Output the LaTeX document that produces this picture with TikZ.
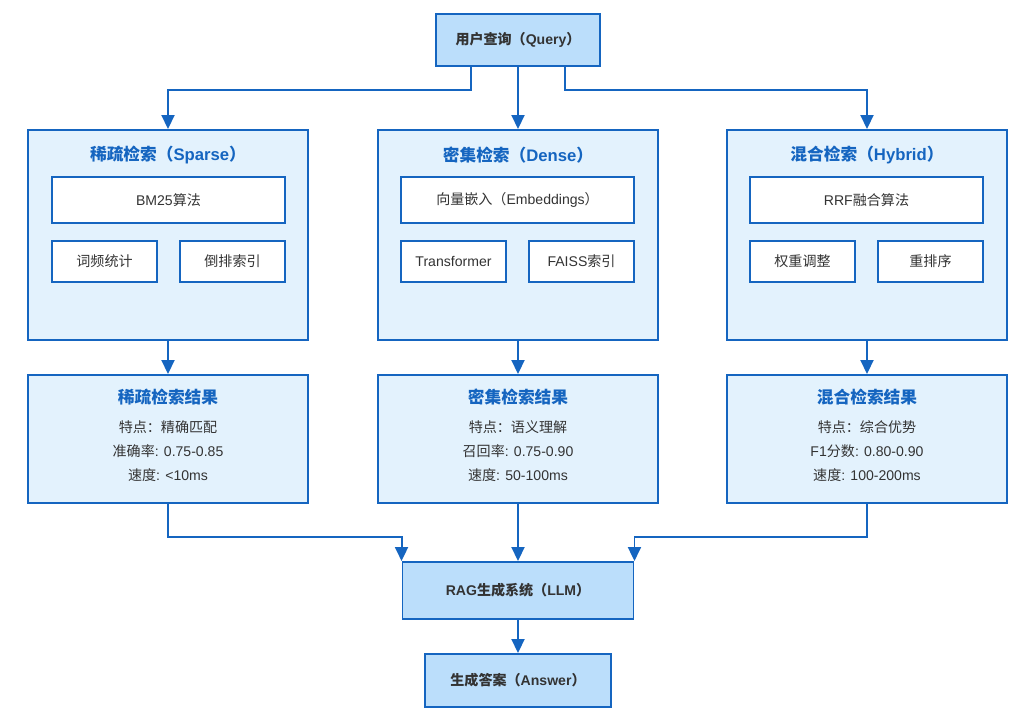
\documentclass[tikz,border=0pt]{standalone}
\usepackage{fontspec}
\setmainfont{Liberation Sans}
\newfontfamily\cjk{Noto Sans CJK SC}
\newcommand\zh[1]{{\cjk #1}}
\usetikzlibrary{arrows.meta}
\definecolor{edgeblue}{HTML}{1565C0}
\definecolor{paleblue}{HTML}{E3F2FD}
\definecolor{midblue}{HTML}{BBDEFB}
\definecolor{inktext}{HTML}{333333}
\tikzset{
  mainbox/.style={draw=edgeblue,fill=midblue,line width=1.1pt,text=inktext,
    font=\bfseries\fontsize{8}{10}\selectfont},
  panel/.style={draw=edgeblue,fill=paleblue,line width=1.1pt,
    minimum width=56mm,minimum height=42mm},
  title/.style={text=edgeblue,font=\bfseries\fontsize{9.5}{11}\selectfont},
  item/.style={draw=edgeblue,fill=white,line width=0.8pt,text=inktext,
    font=\fontsize{8}{10}\selectfont,minimum height=8.2mm},
  wideitem/.style={item,minimum width=46.6mm,minimum height=9.2mm},
  smallitem/.style={item,minimum width=21mm},
  result/.style={draw=edgeblue,fill=paleblue,line width=1.1pt,
    minimum width=56mm,minimum height=25.6mm},
  line/.style={text=inktext,font=\fontsize{8}{10}\selectfont},
  arr/.style={draw=edgeblue,line width=1.1pt,-{Triangle[length=2.8mm,width=2.6mm]}},
  wire/.style={draw=edgeblue,line width=1.1pt}
}
\begin{document}
\begin{tikzpicture}[x=0.2mm,y=-0.2mm]
  \useasboundingbox (0,0) rectangle (1026,710);
  % query
  \node [mainbox,minimum width=32.8mm,minimum height=10.4mm] (query) at (518,40)
    {\zh{用户查询（}Query\zh{）}};

  % retrieval panels
  \node [panel] (sparse) at (168,235) {};
  \node [title] (sparseT) at (168,155) {\zh{稀疏检索（}Sparse\zh{）}};
  \node [wideitem] (bm25) at (168.5,200) {BM25\zh{算法}};
  \node [smallitem] (tf) at (104.5,261.5) {\zh{词频统计}};
  \node [smallitem] (inv) at (232.5,261.5) {\zh{倒排索引}};

  \node [panel] (dense) at (518,235) {};
  \node [title] (denseT) at (518,155) {\zh{密集检索（}Dense\zh{）}};
  \node [wideitem] (emb) at (517.5,200) {\zh{向量嵌入（}Embeddings\zh{）}};
  \node [smallitem] (trf) at (453.5,261.5) {Transformer};
  \node [smallitem] (faiss) at (581.5,261.5) {FAISS\zh{索引}};

  \node [panel] (hybrid) at (867,235) {};
  \node [title] (hybridT) at (867,155) {\zh{混合检索（}Hybrid\zh{）}};
  \node [wideitem] (rrf) at (866.5,200) {RRF\zh{融合算法}};
  \node [smallitem] (wt) at (802.5,261.5) {\zh{权重调整}};
  \node [smallitem] (rr) at (930.5,261.5) {\zh{重排序}};

  % results
  \node [result] (sres) at (168,439) {};
  \node [title] at (168,397) {\zh{稀疏检索结果}};
  \node [line] at (168,427) {\zh{特点：精确匹配}};
  \node [line] at (168,451) {\zh{准确率}: 0.75-0.85};
  \node [line] at (168,475) {\zh{速度}: <10ms};

  \node [result] (dres) at (518,439) {};
  \node [title] at (518,397) {\zh{密集检索结果}};
  \node [line] at (518,427) {\zh{特点：语义理解}};
  \node [line] at (518,451) {\zh{召回率}: 0.75-0.90};
  \node [line] at (518,475) {\zh{速度}: 50-100ms};

  \node [result] (hres) at (867,439) {};
  \node [title] at (867,397) {\zh{混合检索结果}};
  \node [line] at (867,427) {\zh{特点：综合优势}};
  \node [line] at (867,451) {F1\zh{分数}: 0.80-0.90};
  \node [line] at (867,475) {\zh{速度}: 100-200ms};

  % generation
  \node [mainbox,minimum width=46.2mm,minimum height=11.4mm] (llm) at (518,590.5)
    {RAG\zh{生成系统（}LLM\zh{）}};
  \node [mainbox,minimum width=37.2mm,minimum height=10.6mm] (ans) at (518,680.5)
    {\zh{生成答案（}Answer\zh{）}};

  % connectors
  \draw [arr] ([xshift=-9.4mm]query.south) -- ++(0,-4.6mm) -| (sparse.north);
  \draw [arr] (query.south) -- (dense.north);
  \draw [arr] ([xshift=9.4mm]query.south) -- ++(0,-4.6mm) -| (hybrid.north);
  \draw [arr] (sparse.south) -- (sres.north);
  \draw [arr] (dense.south) -- (dres.north);
  \draw [arr] (hybrid.south) -- (hres.north);
  \draw [arr] (sres.south) |- ([yshift=4.8mm]llm.north west) -- (llm.north west);
  \draw [arr] (dres.south) -- (llm.north);
  \draw [arr] (hres.south) |- ([yshift=4.8mm]llm.north east) -- (llm.north east);
  \draw [arr] (llm.south) -- (ans.north);
\end{tikzpicture}
\end{document}
